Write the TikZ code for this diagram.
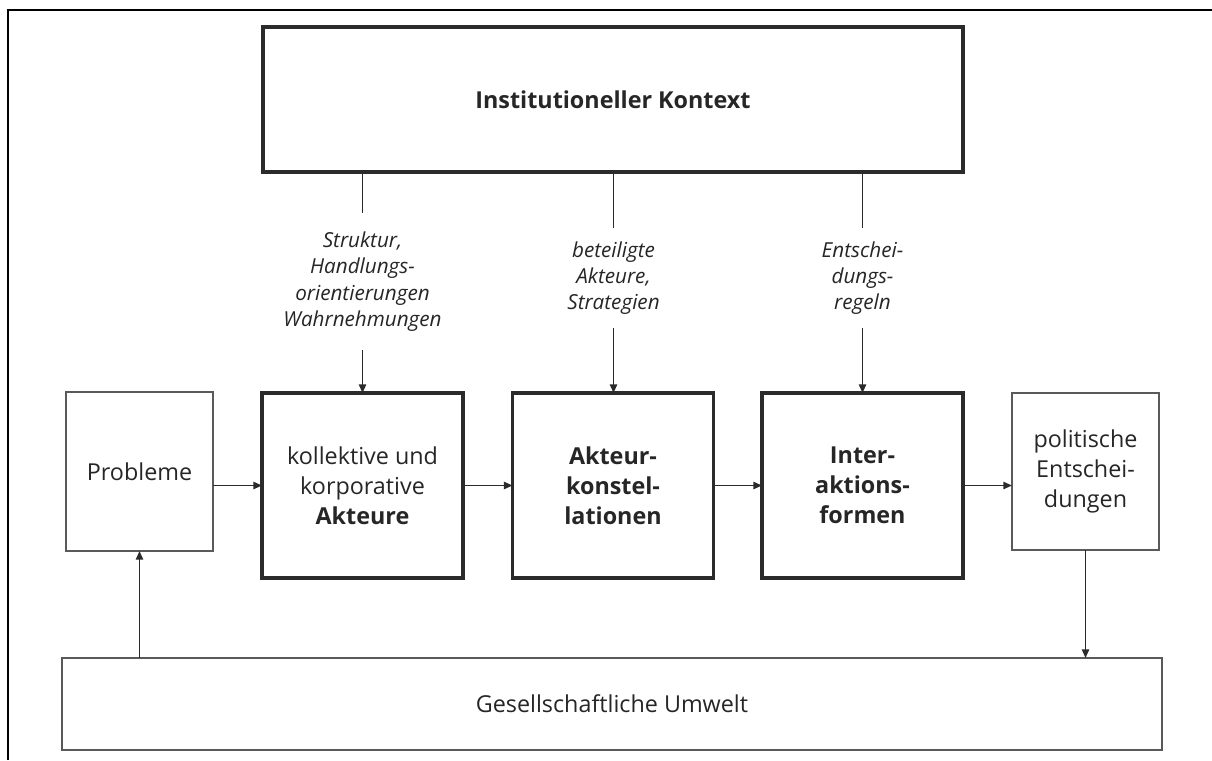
\documentclass[tikz,border=0pt]{standalone}
\usepackage{fontspec}
\setmainfont{Open Sans}
\usetikzlibrary{arrows.meta}
\definecolor{ink}{HTML}{262626}
\definecolor{heavy}{HTML}{2B2B2B}
\definecolor{light}{HTML}{5A5A5A}
\begin{document}
\begin{tikzpicture}[x=0.75pt,y=-0.75pt,
  every node/.style={inner sep=0pt, outer sep=0pt, text=ink, align=center},
  boxtext/.style={font=\fontsize{17.5}{22.5}\selectfont},
  heavybox/.style={boxtext, draw=heavy, line width=2.3pt,
    minimum width=150.75pt, minimum height=138.75pt},
  lightbox/.style={boxtext, draw=light, line width=1.2pt},
  flowlabel/.style={font=\fontsize{15.5}{19.7}\selectfont\itshape, minimum width=10pt},
  link/.style={draw=heavy, line width=1.1pt},
  arr/.style={link, -{Triangle[length=6.5pt,width=5.5pt]}}]

\useasboundingbox (0,0) rectangle (1212,760);
\fill[white] (0,0) rectangle (1212,760);

% outer frame (runs past the page on the right and at the bottom)
\draw[black, line width=1.6pt] (8,760) -- (8,10) -- (1212,10);

% institutional context
\node[boxtext, draw=heavy, line width=2.3pt, minimum width=525pt, minimum height=108.75pt,
  font=\fontsize{17.5}{22.5}\selectfont\bfseries] (kontext) at (613,99.5) {Institutioneller Kontext};

% main chain
\node[lightbox, minimum width=110.25pt, minimum height=119.25pt] (probl) at (139.5,471.5) {Probleme};
\node[heavybox] (akt) at (362.5,485.5) {kollektive und\\korporative\\\textbf{Akteure}};
\node[heavybox] (konst) at (613,485.5) {\textbf{Akteur-}\\\textbf{konstel-}\\\textbf{lationen}};
\node[heavybox] (inter) at (862.5,485.5) {\textbf{Inter-}\\\textbf{aktions-}\\\textbf{formen}};
\node[lightbox, minimum width=110.25pt, minimum height=117.75pt] (pol) at (1085.5,471.5) {politische\\Entschei-\\dungen};

% society
\node[lightbox, minimum width=825pt, minimum height=69pt] (umwelt) at (612,704) {Gesellschaftliche Umwelt};

% labels between context and chain
\node[flowlabel, minimum height=102.75pt] (lab1) at (362.5,281.5) {Struktur,\\Handlungs-\\orientierungen\\Wahrnehmungen};
\node[flowlabel, minimum height=75pt] (lab2) at (613.5,278) {beteiligte\\Akteure,\\Strategien};
\node[flowlabel, minimum height=75pt] (lab3) at (862.5,278) {Entschei-\\dungs-\\regeln};

% context influences
\draw[link] (kontext.south -| lab1.north) -- (lab1.north);
\draw[arr] (lab1.south) -- (akt.north);
\draw[link] (kontext.south -| lab2.north) -- (lab2.north);
\draw[arr] (lab2.south) -- (lab2.south |- konst.north);
\draw[link] (kontext.south -| lab3.north) -- (lab3.north);
\draw[arr] (lab3.south) -- (inter.north);

% horizontal flow
\draw[arr] (probl.east |- akt.west) -- (akt.west);
\draw[arr] (akt.east) -- (konst.west);
\draw[arr] (konst.east) -- (inter.west);
\draw[arr] (inter.east) -- (pol.west |- inter.east);

% feedback through society
\draw[arr] (pol.south) -- (pol.south |- umwelt.north);
\draw[arr] (probl.south |- umwelt.north) -- (probl.south);
\end{tikzpicture}
\end{document}
